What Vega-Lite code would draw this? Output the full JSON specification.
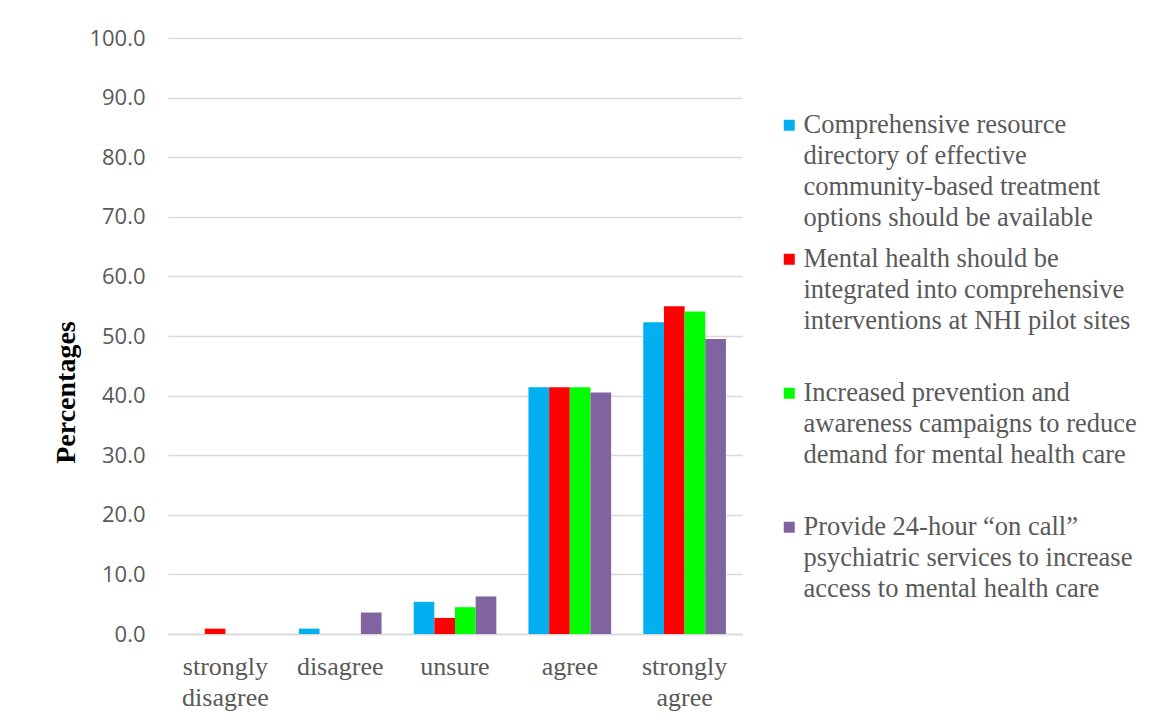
{
  "$schema": "https://vega.github.io/schema/vega-lite/v6.json",
  "width": 574,
  "height": 596,
  "autosize": {"type": "none"},
  "padding": {"left": 168, "top": 38, "right": 419, "bottom": 88},
  "background": "white",
  "data": {
    "values": [
      {"response": "strongly disagree", "series": "A", "pct": 0.0},
      {"response": "strongly disagree", "series": "B", "pct": 0.9},
      {"response": "strongly disagree", "series": "C", "pct": 0.0},
      {"response": "strongly disagree", "series": "D", "pct": 0.0},
      {"response": "disagree", "series": "A", "pct": 0.9},
      {"response": "disagree", "series": "B", "pct": 0.0},
      {"response": "disagree", "series": "C", "pct": 0.0},
      {"response": "disagree", "series": "D", "pct": 3.6},
      {"response": "unsure", "series": "A", "pct": 5.4},
      {"response": "unsure", "series": "B", "pct": 2.7},
      {"response": "unsure", "series": "C", "pct": 4.5},
      {"response": "unsure", "series": "D", "pct": 6.3},
      {"response": "agree", "series": "A", "pct": 41.4},
      {"response": "agree", "series": "B", "pct": 41.4},
      {"response": "agree", "series": "C", "pct": 41.4},
      {"response": "agree", "series": "D", "pct": 40.5},
      {"response": "strongly agree", "series": "A", "pct": 52.3},
      {"response": "strongly agree", "series": "B", "pct": 55.0},
      {"response": "strongly agree", "series": "C", "pct": 54.1},
      {"response": "strongly agree", "series": "D", "pct": 49.5}
    ]
  },
  "mark": {"type": "bar"},
  "encoding": {
    "x": {
      "field": "response",
      "type": "nominal",
      "sort": ["strongly disagree", "disagree", "unsure", "agree", "strongly agree"],
      "scale": {"paddingInner": 0.28, "paddingOuter": 0.14},
      "axis": {
        "title": null,
        "labelAngle": 0,
        "labelExpr": "datum.label == 'strongly disagree' ? ['strongly', 'disagree'] : datum.label == 'strongly agree' ? ['strongly', 'agree'] : datum.label",
        "labelFont": "Liberation Serif",
        "labelFontSize": 26,
        "labelColor": "#595959",
        "labelLineHeight": 31,
        "labelPadding": 19,
        "ticks": false,
        "domainColor": "#d9d9d9",
        "domainWidth": 1.5,
        "grid": false
      }
    },
    "xOffset": {
      "field": "series",
      "type": "nominal",
      "scale": {"paddingInner": 0, "paddingOuter": 0}
    },
    "y": {
      "field": "pct",
      "type": "quantitative",
      "scale": {"domain": [0, 100], "nice": false},
      "axis": {
        "title": "Percentages",
        "titleFont": "Liberation Serif",
        "titleFontSize": 28,
        "titleFontWeight": "bold",
        "titleColor": "#000000",
        "titlePadding": 8,
        "titleY": 354,
        "values": [0, 10, 20, 30, 40, 50, 60, 70, 80, 90, 100],
        "format": ".1f",
        "labelFont": "Open Sans",
        "labelFontSize": 22,
        "labelColor": "#595959",
        "labelPadding": 23,
        "ticks": false,
        "domain": false,
        "gridColor": "#d9d9d9",
        "gridWidth": 1.5
      }
    },
    "color": {
      "field": "series",
      "type": "nominal",
      "scale": {
        "domain": ["A", "B", "C", "D"],
        "range": ["#00B0F0", "#FF0000", "#00FF00", "#8064A2"]
      },
      "legend": {
        "title": null,
        "orient": "none",
        "legendX": 608,
        "legendY": 74,
        "padding": 0,
        "gridAlign": "all",
        "rowPadding": 14,
        "symbolType": "square",
        "symbolSize": 121,
        "symbolStrokeWidth": 0,
        "labelOffset": 1,
        "labelFont": "Liberation Serif",
        "labelFontSize": 26.5,
        "labelColor": "#595959",
        "labelLimit": 0,
        "labelBaseline": "top",
        "labelExpr": "datum.label == 'A' ? ['Comprehensive resource', 'directory of effective', 'community-based treatment', 'options should be available'] : datum.label == 'B' ? ['Mental health should be', 'integrated into comprehensive', 'interventions at NHI pilot sites'] : datum.label == 'C' ? ['Increased prevention and', 'awareness campaigns to reduce', 'demand for mental health care'] : ['Provide 24-hour \u201con call\u201d', 'psychiatric services to increase', 'access to mental health care']",
        "encode": {
          "labels": {"update": {"lineHeight": {"value": 31}, "dy": {"value": -13}}}
        }
      }
    }
  },
  "config": {
    "view": {"stroke": null}
  }
}
